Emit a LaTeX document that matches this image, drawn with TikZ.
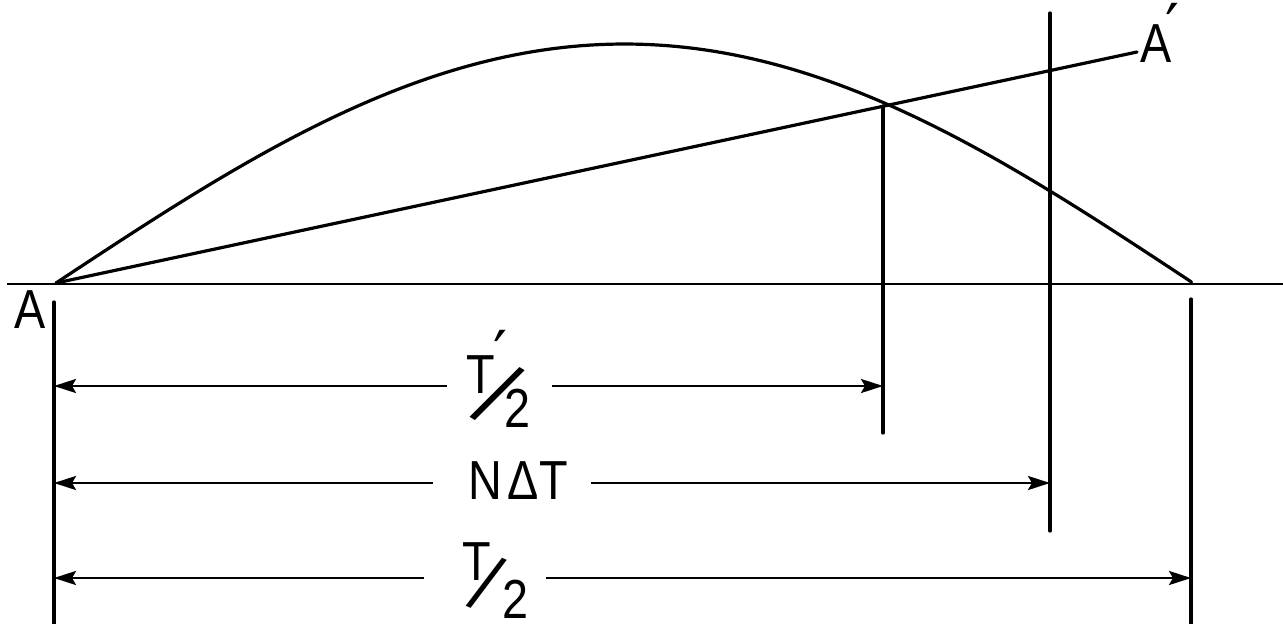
\documentclass[tikz,border=0pt]{standalone}
\usepackage{fontspec}
\setmainfont{Liberation Sans}
\newfontfamily\lettering[FakeStretch=0.85]{Liberation Sans}
\newfontfamily\djv{DejaVu Sans}
\usetikzlibrary{arrows.meta}
\begin{document}
\begin{tikzpicture}[x=1pt,y=-1pt,
  ln/.style={line width=3.2pt, line cap=round},
  thin/.style={line width=2.4pt},
  dim/.style={line width=2.8pt, -{Stealth[length=22pt,width=14pt,inset=4pt]}},
  lab/.style={inner sep=0pt, font=\lettering\fontsize{55}{60}\selectfont},
  primelab/.style={inner sep=0pt, font=\djv\fontsize{62}{66}\selectfont},
  slash/.style={inner sep=0pt, font=\lettering\fontsize{55}{60}\selectfont}]
\useasboundingbox (0,0) rectangle (1283,624);
% key points
\coordinate (A) at (56,283);
\coordinate (Ap) at (1137,52);
\coordinate (X) at (883,106);
% baseline
\coordinate (b0) at (7,284);
\coordinate (b1) at (1283,284);
\draw[thin] (b0) -- (b1);
% curve
\draw[ln] plot[domain=0:1, samples=120] ({56+1137*\x}, {283 - 239*sin(180*\x)});
% line A-A'
\draw[ln] (A) -- (Ap);
% labels
\node[lab] (la) at (30,310) {A};
\node[lab] (lap) at (1156,44) {A};
\node[primelab] (lapp) at (1173,26) {′};
% verticals
\coordinate (v0t) at (54,302);  \coordinate (v0b) at (54,624);
\coordinate (v1t) at (X);       \coordinate (v1b) at (883,433);
\coordinate (v2t) at (1050,13); \coordinate (v2b) at (1050,531);
\coordinate (v3t) at (1191,299);\coordinate (v3b) at (1191,624);
\draw[ln] (v0t) -- (v0b);
\draw[ln] (v1t) -- (v1b);
\draw[ln] (v2t) -- (v2b);
\draw[ln] (v3t) -- (v3b);
% T'/2
\node[lab] (t1a) at (481,375) {T};
\node[primelab] (t1p) at (501,353) {′};
\node[slash, rotate=-32, scale=1.7] (t1s) at (498,394) {/};
\node[lab] (t1b) at (517,408) {2};
% N Delta T
\node[lab] (nd) at (518,481) {N\hspace{6pt}ΔT};
% T/2
\node[lab] (t2a) at (477,562) {T};
\node[slash, rotate=-24, scale=1.45] (t2s) at (487,583) {/};
\node[lab] (t2b) at (515,599) {2};
% dimension rows
\coordinate (r1l) at (54,386);  \coordinate (r1r) at (883,386);
\coordinate (r2l) at (54,483);  \coordinate (r2r) at (1050,483);
\coordinate (r3l) at (54,578);  \coordinate (r3r) at (1191,578);
\coordinate (g1l) at (447,386); \coordinate (g1r) at (552,386);
\coordinate (g2l) at (433,483); \coordinate (g2r) at (591,483);
\coordinate (g3l) at (424,578); \coordinate (g3r) at (546,578);
\draw[dim] (g1l) -- (r1l);
\draw[dim] (g1r) -- (r1r);
\draw[dim] (g2l) -- (r2l);
\draw[dim] (g2r) -- (r2r);
\draw[dim] (g3l) -- (r3l);
\draw[dim] (g3r) -- (r3r);
\end{tikzpicture}
\end{document}
